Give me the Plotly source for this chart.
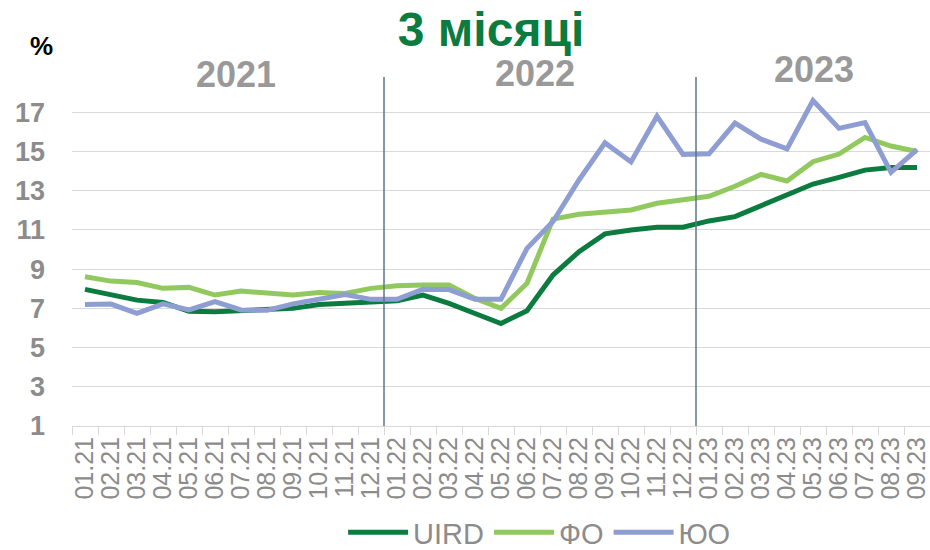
import plotly.graph_objects as go

months = ["01.21","02.21","03.21","04.21","05.21","06.21","07.21","08.21","09.21","10.21","11.21","12.21",
          "01.22","02.22","03.22","04.22","05.22","06.22","07.22","08.22","09.22","10.22","11.22","12.22",
          "01.23","02.23","03.23","04.23","05.23","06.23","07.23","08.23","09.23"]

uird = [7.97, 7.68, 7.42, 7.30, 6.85, 6.83, 6.88, 6.92, 7.00, 7.20, 7.28, 7.32,
        7.39, 7.68, 7.25, 6.74, 6.23, 6.88, 8.70, 9.89, 10.80, 11.00, 11.14, 11.14,
        11.46, 11.68, 12.22, 12.78, 13.34, 13.68, 14.05, 14.18, 14.18]

fo = [8.61, 8.39, 8.32, 8.02, 8.07, 7.68, 7.88, 7.80, 7.68, 7.81, 7.76, 8.02,
      8.15, 8.19, 8.19, 7.51, 7.00, 8.28, 11.55, 11.80, 11.90, 12.02, 12.36, 12.56,
      12.72, 13.23, 13.83, 13.50, 14.48, 14.87, 15.72, 15.28, 15.00]

yo = [7.20, 7.22, 6.75, 7.23, 6.92, 7.34, 6.92, 6.90, 7.23, 7.46, 7.71, 7.46,
      7.46, 7.98, 7.96, 7.47, 7.47, 10.06, 11.43, 13.55, 15.44, 14.47, 16.80, 14.85,
      14.88, 16.45, 15.63, 15.13, 17.60, 16.18, 16.47, 13.94, 15.10]

series_names = ["UIRD", "ФО", "ЮО"]
series_colors = ["#0b7b3f", "#92c95f", "#8e9ed2"]
y_ticks = [1, 3, 5, 7, 9, 11, 13, 15, 17]
years = ["2021", "2022", "2023"]

FONT = "Liberation Sans, Arial, sans-serif"
GRAY = "#8c8c8c"

fig = go.Figure()
for name, vals, col in zip(series_names, [uird, fo, yo], series_colors):
    fig.add_trace(go.Scatter(x=months, y=vals, mode="lines", name=name,
                             line=dict(color=col, width=5)))

# year separators
for xpos in [11.5, 23.5]:
    fig.add_shape(type="line", xref="x", yref="paper", x0=xpos, x1=xpos, y0=0, y1=1,
                  line=dict(color="#5b7488", width=1.5))

year_pos = [(5.8, 1.008), (17.3, 1.01), (28.05, 1.022)]
for yr, (xp, yp) in zip(years, year_pos):
    fig.add_annotation(text=yr, xref="x", yref="paper", x=xp, y=yp, showarrow=False,
                       yanchor="middle", font=dict(family=FONT, size=36, color="#999999", weight="bold"))

fig.add_annotation(text="%", xref="paper", yref="paper", x=-0.035, y=1.089, showarrow=False,
                   xanchor="center", yanchor="middle",
                   font=dict(family=FONT, size=26, color="#000000", weight="bold"))

fig.update_layout(
    width=930, height=550,
    margin=dict(l=72, r=0, t=77, b=124, autoexpand=False),
    plot_bgcolor="white", paper_bgcolor="white",
    title=dict(text="3 місяці", x=0.528, xanchor="center", y=1 - 29 / 550, yanchor="middle",
               font=dict(family=FONT, size=48, color="#0b7b3f", weight="bold")),
    showlegend=True,
    legend=dict(orientation="h", x=0.545, xanchor="center", y=-0.305, yanchor="middle",
                itemwidth=60,
                font=dict(family=FONT, size=29, color=GRAY), bgcolor="rgba(0,0,0,0)"),
    xaxis=dict(type="category", tickmode="array", tickvals=months, ticktext=months,
               tickangle=-90, tickson="boundaries", ticks="outside", ticklen=8,
               tickcolor="#d9d9d9", showline=True, linecolor="#d9d9d9", linewidth=1,
               showgrid=False, automargin=False, tickfont=dict(family=FONT, size=25, color=GRAY),
               range=[-0.5, 32.5]),
    yaxis=dict(range=[1, 18.8], tickvals=y_ticks, showgrid=True, gridcolor="#d9d9d9", gridwidth=1,
               zeroline=False, showline=False, ticks="", ticklabelstandoff=26, automargin=False,
               tickfont=dict(family=FONT, size=27, color=GRAY, weight="bold")),
)

fig.write_html("out.html", config={"displayModeBar": False},
               post_script="document.body.style.margin='0';")
